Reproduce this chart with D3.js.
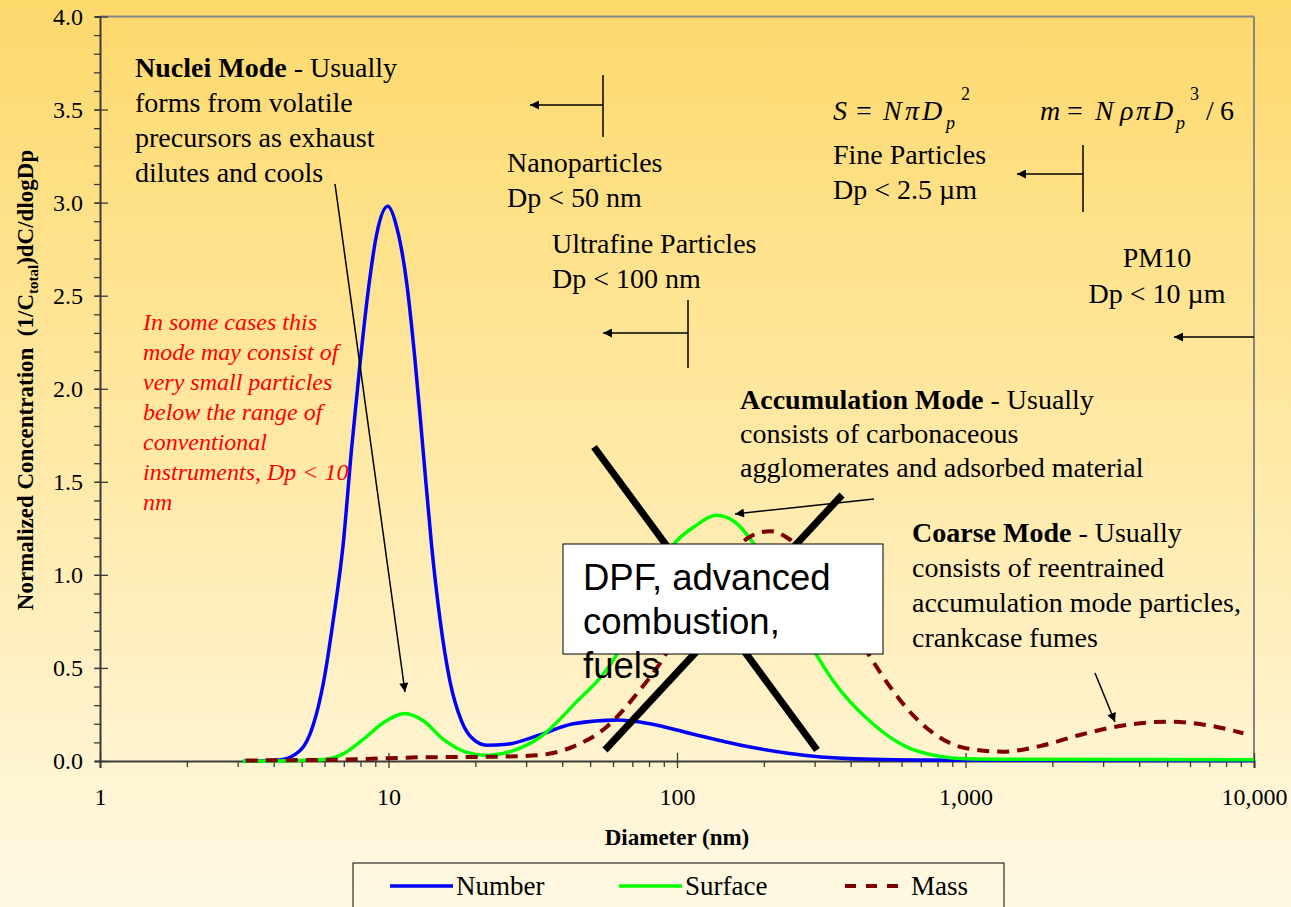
<!DOCTYPE html>
<html>
<head>
<meta charset="utf-8">
<script src="https://cdn.jsdelivr.net/npm/d3@7"></script>
<style>
  body { margin: 0; }
  svg { display: block; }
  text { font-family: "Liberation Serif", "Times New Roman", serif; fill: #000; }
  text.sans { font-family: "Liberation Sans", Arial, sans-serif; }
</style>
</head>
<body>
<script>
// values: diameter (nm) and normalized concentration
const numberD = [3.13, 4.2, 4.94, 5.49, 5.94, 6.43, 6.97, 7.44, 7.96, 8.51, 9.1, 9.94, 10.67, 11.56, 12.33, 13.18, 14.08, 15.06, 16.3, 17.9, 19.7, 21.9, 25.7, 33.4, 43.7, 62, 80.6, 110.5, 165, 280, 477, 1000, 10000];
const numberV = [0, 0.006, 0.056, 0.196, 0.415, 0.754, 1.17, 1.67, 2.13, 2.53, 2.83, 2.98, 2.87, 2.57, 2.17, 1.67, 1.17, 0.77, 0.435, 0.216, 0.116, 0.085, 0.09, 0.14, 0.2, 0.22, 0.2, 0.149, 0.086, 0.03, 0.009, 0.004, 0.003];

const surfaceD = [3.13, 5, 6, 6.97, 8.17, 9.6, 11.4, 13.2, 15.5, 18.7, 21.9, 27.1, 33.4, 43.7, 62, 75, 97.6, 115, 137, 160, 185, 250, 303, 346, 477, 622, 812, 1000, 1500, 10000];
const surfaceV = [0, 0.003, 0.008, 0.038, 0.116, 0.206, 0.255, 0.216, 0.116, 0.046, 0.03, 0.056, 0.126, 0.3, 0.575, 0.84, 1.166, 1.26, 1.32, 1.28, 1.166, 0.82, 0.575, 0.435, 0.2, 0.077, 0.025, 0.012, 0.009, 0.007];

const massD = [3.2, 5, 7, 10, 13, 20, 28, 33.5, 43.7, 57.1, 72.5, 87.3, 111, 141, 179, 210, 246, 339, 467, 547, 659, 773, 1009, 1352, 1811, 2492, 3430, 4980, 6855, 9185];
const massV = [0.003, 0.005, 0.008, 0.015, 0.02, 0.022, 0.026, 0.032, 0.077, 0.184, 0.36, 0.525, 0.8, 1.04, 1.205, 1.235, 1.19, 0.92, 0.56, 0.4, 0.245, 0.15, 0.068, 0.05, 0.08, 0.14, 0.188, 0.211, 0.193, 0.149];

const xTicks = [1, 10, 100, 1000, 10000];
const xMinorTicks = [2,3,4,5,6,7,8,9,20,30,40,50,60,70,80,90,200,300,400,500,600,700,800,900,2000,3000,4000,5000,6000,7000,8000,9000];
const yTicks = [0, 0.5, 1, 1.5, 2, 2.5, 3, 3.5, 4];
const yMinorTicks = d3.range(0, 41).map(i => i / 10);

const seriesNames = ['Number', 'Surface', 'Mass'];

const W = 1291, H = 907;
const X0 = 100, X1 = 1254, Y0 = 761, Y1 = 16.5;

const svg = d3.select('body').append('svg').attr('width', W).attr('height', H);

const defs = svg.append('defs');
const grad = defs.append('linearGradient').attr('id', 'bg').attr('x1', 0).attr('y1', 0).attr('x2', 0).attr('y2', 1);
grad.append('stop').attr('offset', '0%').attr('stop-color', '#fdd96c');
grad.append('stop').attr('offset', '50%').attr('stop-color', '#ffe9a6');
grad.append('stop').attr('offset', '100%').attr('stop-color', '#fff9e4');

defs.append('marker').attr('id', 'ah').attr('viewBox', '0 0 10 10')
  .attr('refX', 10).attr('refY', 5).attr('markerWidth', 12).attr('markerHeight', 9)
  .attr('markerUnits', 'userSpaceOnUse').attr('orient', 'auto')
  .append('path').attr('d', 'M0,0L10,5L0,10z').attr('fill', '#000');

svg.append('rect').attr('width', W).attr('height', H).attr('fill', 'url(#bg)');

const x = d3.scaleLog().domain([1, 10000]).range([X0, X1]);
const y = d3.scaleLinear().domain([0, 4]).range([Y0, Y1]);

// frame
svg.append('line').attr('x1', X0).attr('x2', X1).attr('y1', Y1).attr('y2', Y1).attr('stroke', '#858585').attr('stroke-width', 2);
svg.append('line').attr('x1', X1).attr('x2', X1).attr('y1', Y1).attr('y2', Y0).attr('stroke', '#858585').attr('stroke-width', 2);

// y axis
const yAxis = svg.append('g').attr('transform', `translate(${X0},0)`)
  .call(d3.axisLeft(y).tickValues(yTicks).tickFormat(d3.format('.1f')).tickSize(5).tickPadding(12));
svg.append('g').attr('transform', `translate(${X0},0)`)
  .call(d3.axisLeft(y).tickValues(yMinorTicks).tickFormat('').tickSize(6))
  .call(g => g.select('.domain').remove());
yAxis.selectAll('.tick').append('line').attr('x2', 8);

// x axis
const xAxis = svg.append('g').attr('transform', `translate(0,${Y0})`)
  .call(d3.axisBottom(x).tickValues(xTicks).tickFormat(d3.format(',')).tickSize(7).tickPadding(20));
svg.append('g').attr('transform', `translate(0,${Y0})`)
  .call(d3.axisBottom(x).tickValues(xMinorTicks).tickFormat('').tickSize(6))
  .call(g => g.select('.domain').remove());
xAxis.selectAll('.tick').append('line').attr('y2', -8);

svg.selectAll('.domain').attr('stroke', '#3a3a3a').attr('stroke-width', 2);
svg.selectAll('.tick line').attr('stroke', '#3a3a3a').attr('stroke-width', 1.3);
svg.selectAll('.tick text').attr('font-size', 24).attr('fill', '#000');

// axis titles
svg.append('text').attr('x', (X0 + X1) / 2).attr('y', 845).attr('text-anchor', 'middle')
  .attr('font-weight', 'bold').attr('font-size', 23).text('Diameter (nm)');

const yt = svg.append('text').attr('transform', 'translate(33,380) rotate(-90)').attr('text-anchor', 'middle')
  .attr('font-weight', 'bold').attr('font-size', 23);
yt.append('tspan').text('Normalized Concentration\u00A0 (1/C');
yt.append('tspan').attr('font-size', 15).attr('dy', 5).text('total');
yt.append('tspan').attr('dy', -5).text(')dC/dlogDp');

// curves
const line = d3.line().x(d => x(d[0])).y(d => y(d[1])).curve(d3.curveMonotoneX);
const series = [
  { name: seriesNames[0], d: numberD, v: numberV, color: '#0000ff', dash: null, w: 3.5 },
  { name: seriesNames[1], d: surfaceD, v: surfaceV, color: '#00ff00', dash: null, w: 3.5 },
  { name: seriesNames[2], d: massD, v: massV, color: '#800000', dash: '12,8', w: 4 }
];
series.forEach(s => {
  svg.append('path').datum(d3.zip(s.d, s.v)).attr('d', line)
    .attr('fill', 'none').attr('stroke', s.color).attr('stroke-width', s.w)
    .attr('stroke-dasharray', s.dash);
});

// big X and the box
svg.append('line').attr('x1', 594).attr('y1', 447).attr('x2', 817).attr('y2', 750).attr('stroke', '#000').attr('stroke-width', 7);
svg.append('line').attr('x1', 842).attr('y1', 495).attr('x2', 605).attr('y2', 750).attr('stroke', '#000').attr('stroke-width', 7);
svg.append('rect').attr('x', 563).attr('y', 544).attr('width', 320).attr('height', 110)
  .attr('fill', '#fff').attr('stroke', '#000').attr('stroke-width', 1);
const boxText = ['DPF, advanced', 'combustion,', 'fuels'];
boxText.forEach((t, i) => {
  svg.append('text').attr('class', 'sans').attr('x', 583).attr('y', 590 + i * 44)
    .attr('font-size', 36.5).text(t);
});

// text blocks
function block(lines, x0, y0, step, opts = {}) {
  const t = svg.append('text').attr('font-size', opts.size || 28)
    .attr('text-anchor', opts.anchor || 'start')
    .attr('font-style', opts.italic ? 'italic' : null)
    .style('fill', opts.color || '#000');
  lines.forEach((l, i) => {
    const row = t.append('tspan').attr('x', x0).attr('y', y0 + i * step);
    if (Array.isArray(l)) {
      row.append('tspan').attr('font-weight', 'bold').text(l[0]);
      row.append('tspan').text(l[1]);
    } else row.text(l);
  });
}
block([['Nuclei Mode', ' - Usually'], 'forms from volatile', 'precursors as exhaust', 'dilutes and cools'], 135, 77, 35);
block(['In some cases this', 'mode may consist of', 'very small particles', 'below the range of', 'conventional', 'instruments, Dp < 10', 'nm'], 143, 330, 30, { size: 24, italic: true, color: '#ff0000' });
block(['Nanoparticles', 'Dp < 50 nm'], 507, 172, 35);
block(['Ultrafine Particles', 'Dp < 100 nm'], 552, 253, 35);
block(['Fine Particles', 'Dp < 2.5 \u00B5m'], 833, 164, 35);
block(['PM10', 'Dp < 10 \u00B5m'], 1157, 267, 36, { anchor: 'middle' });
block([['Accumulation Mode', ' - Usually'], 'consists of carbonaceous', 'agglomerates and adsorbed material'], 740, 409, 34);
block([['Coarse Mode', ' - Usually'], 'consists of reentrained', 'accumulation mode particles,', 'crankcase fumes'], 912, 542, 35);

// formulas
function formula(parts, by) {
  parts.forEach(p => {
    svg.append('text').attr('x', p[1]).attr('y', by + (p[3] || 0))
      .attr('font-size', p[2] || 28).attr('font-style', p[4] ? null : 'italic').text(p[0]);
  });
}
formula([['S', 833], ['=', 856, 28, 0, 1], ['N', 883], ['\u03C0', 905], ['D', 922], ['p', 946, 18, 9], ['2', 961, 18, -20, 1]], 120);
formula([['m', 1040], ['=', 1067, 28, 0, 1], ['N', 1095], ['\u03C1', 1120], ['\u03C0', 1136], ['D', 1153], ['p', 1176, 18, 9], ['3', 1190, 18, -20, 1], ['/', 1206, 28, 0, 1], ['6', 1220, 28, 0, 1]], 120);

// cut-off arrows
function cutoff(bx, top, bottom, ay, tipX) {
  if (top !== null) svg.append('line').attr('x1', bx).attr('x2', bx).attr('y1', top).attr('y2', bottom).attr('stroke', '#000').attr('stroke-width', 1.5);
  svg.append('line').attr('x1', bx).attr('x2', tipX).attr('y1', ay).attr('y2', ay)
    .attr('stroke', '#000').attr('stroke-width', 1.5).attr('marker-end', 'url(#ah)');
}
cutoff(603, 75, 137, 105, 530);
cutoff(688, 300, 368, 333, 603);
cutoff(1083, 145, 212, 174, 1017);
cutoff(1254, null, null, 337, 1174);

// pointer arrows
function pointer(x1, y1, x2, y2) {
  svg.append('line').attr('x1', x1).attr('y1', y1).attr('x2', x2).attr('y2', y2)
    .attr('stroke', '#000').attr('stroke-width', 1.5).attr('marker-end', 'url(#ah)');
}
pointer(335, 184, 405, 692);
pointer(874, 499, 735, 514);
pointer(1095, 673, 1115, 722);

// legend
svg.append('rect').attr('x', 353).attr('y', 863).attr('width', 651).attr('height', 70)
  .attr('fill', 'none').attr('stroke', '#000').attr('stroke-width', 1);
const legendX = [390, 619, 845];
series.forEach((s, i) => {
  const lx = legendX[i];
  svg.append('line').attr('x1', lx).attr('x2', lx + 63).attr('y1', 886).attr('y2', 886)
    .attr('stroke', s.color).attr('stroke-width', s.w).attr('stroke-dasharray', s.dash ? '11,10' : null);
  svg.append('text').attr('x', lx + 66).attr('y', 895).attr('font-size', 27).text(s.name);
});
</script>
</body>
</html>
